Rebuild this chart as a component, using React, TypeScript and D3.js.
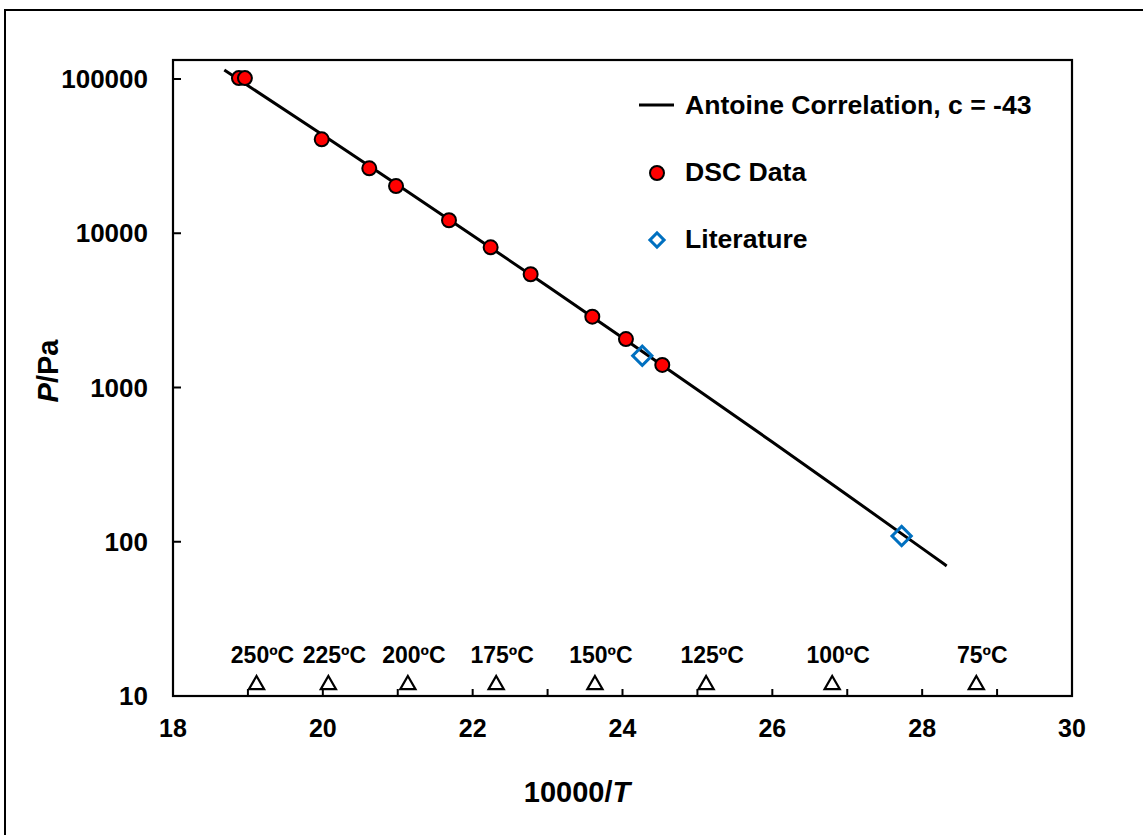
import React, { useRef, useEffect } from 'react'
import * as d3 from 'd3'

// DSC measurements (10000/T, P in Pa)
const dscX = [18.88, 18.96, 19.985, 20.62, 20.977, 21.684, 22.24, 22.774, 23.597, 24.046, 24.531]
const dscP = [101325, 101325, 40640, 26360, 20230, 12140, 8110, 5420, 2877, 2061, 1400]

// literature points
const litX = [24.264, 27.726]
const litP = [1608, 109]

// Antoine correlation, c = -43
const antX = [18.685, 20, 21, 22, 23, 24, 25, 26, 27, 28, 28.327]
const antP = [114300, 43320, 20550, 9678, 4528, 2102, 968.5, 443.1, 201.1, 90.6, 69.7]

// temperature markers along the bottom
const tempLabels = ['250ºC', '225ºC', '200ºC', '175ºC', '150ºC', '125ºC', '100ºC', '75ºC']
const tempX = [19.115, 20.074, 21.135, 22.314, 23.632, 25.116, 26.799, 28.723]
const tempP = [12, 12, 12, 12, 12, 12, 12, 12]

const xTicks = [18, 20, 22, 24, 26, 28, 30]
const yTicks = [10, 100, 1000, 10000, 100000]

const legendItems = ['Antoine Correlation, c = -43', 'DSC Data', 'Literature']

const W = 1143
const H = 835
const FONT = 'Liberation Sans, Arial, sans-serif'

export default function App() {
  const svgRef = useRef<SVGSVGElement>(null)

  useEffect(() => {
    const svg = d3.select(svgRef.current)
    svg.selectAll('*').remove()

    const left = 173, right = 1072, top = 60, bottom = 696

    const x = d3.scaleLinear().domain([18, 30]).range([left, right])
    const y = d3.scaleLog().domain([10, 100000]).range([bottom, 79])

    // outer chart frame
    svg.append('rect')
      .attr('x', 5).attr('y', 10)
      .attr('width', W + 10).attr('height', H + 10)
      .attr('fill', 'white').attr('stroke', '#000').attr('stroke-width', 2)

    // plot area
    svg.append('rect')
      .attr('x', left).attr('y', top)
      .attr('width', right - left).attr('height', bottom - top)
      .attr('fill', 'none').attr('stroke', '#000').attr('stroke-width', 2.2)

    // x ticks (inside), every 1 unit
    const xMinor = d3.range(19, 30, 1)
    svg.append('g').selectAll('line').data(xMinor).join('line')
      .attr('x1', d => x(d)).attr('x2', d => x(d))
      .attr('y1', bottom).attr('y2', bottom - 7)
      .attr('stroke', '#000').attr('stroke-width', 2)

    svg.append('g').selectAll('text').data(xTicks).join('text')
      .attr('x', d => x(d)).attr('y', 737)
      .attr('text-anchor', 'middle')
      .attr('font-family', FONT).attr('font-weight', 'bold').attr('font-size', 25)
      .text(d => d)

    // y ticks (inside)
    svg.append('g').selectAll('line').data(yTicks).join('line')
      .attr('x1', left).attr('x2', left + 8)
      .attr('y1', d => y(d)).attr('y2', d => y(d))
      .attr('stroke', '#000').attr('stroke-width', 2)

    svg.append('g').selectAll('text').data(yTicks).join('text')
      .attr('x', 148).attr('y', d => y(d))
      .attr('dy', '0.35em')
      .attr('text-anchor', 'end')
      .attr('font-family', FONT).attr('font-weight', 'bold').attr('font-size', 26)
      .text(d => d)

    // axis titles
    const xt = svg.append('text')
      .attr('x', 577).attr('y', 802)
      .attr('text-anchor', 'middle')
      .attr('font-family', FONT).attr('font-weight', 'bold').attr('font-size', 29)
    xt.append('tspan').text('10000/')
    xt.append('tspan').attr('font-style', 'italic').text('T')

    const yt = svg.append('text')
      .attr('transform', 'translate(58,371) rotate(-90)')
      .attr('text-anchor', 'middle')
      .attr('font-family', FONT).attr('font-weight', 'bold').attr('font-size', 29)
    yt.append('tspan').attr('font-style', 'italic').text('P')
    yt.append('tspan').text('/Pa')

    // Antoine line
    const lineGen = d3.line<number>()
      .x((d, i) => x(antX[i]))
      .y(d => y(d))
      .curve(d3.curveMonotoneX)
    svg.append('path')
      .datum(antP)
      .attr('d', lineGen)
      .attr('fill', 'none').attr('stroke', '#000').attr('stroke-width', 3)

    // DSC points
    svg.append('g').selectAll('circle').data(dscP).join('circle')
      .attr('cx', (d, i) => x(dscX[i])).attr('cy', d => y(d))
      .attr('r', 7)
      .attr('fill', '#FF0000').attr('stroke', '#000').attr('stroke-width', 2)

    // literature points
    const diamond = d3.symbol().type(d3.symbolSquare).size(185)
    svg.append('g').selectAll('path').data(litP).join('path')
      .attr('d', diamond)
      .attr('transform', (d, i) => `translate(${x(litX[i])},${y(d)}) rotate(45)`)
      .attr('fill', 'none').attr('stroke', '#0070C0').attr('stroke-width', 3)

    // temperature markers
    const tri = d3.symbol().type(d3.symbolTriangle).size(100)
    svg.append('g').selectAll('path').data(tempP).join('path')
      .attr('d', tri)
      .attr('transform', (d, i) => `translate(${x(tempX[i])},${y(d) + 1})`)
      .attr('fill', 'none').attr('stroke', '#000').attr('stroke-width', 2.2)

    svg.append('g').selectAll('text').data(tempLabels).join('text')
      .attr('x', (d, i) => x(tempX[i]) + 6).attr('y', 663)
      .attr('text-anchor', 'middle')
      .attr('font-family', FONT).attr('font-weight', 'bold').attr('font-size', 23)
      .text(d => d)

    // legend
    const lg = svg.append('g')
    lg.append('line')
      .attr('x1', 639).attr('x2', 674).attr('y1', 105).attr('y2', 105)
      .attr('stroke', '#000').attr('stroke-width', 3)
    lg.append('circle')
      .attr('cx', 657).attr('cy', 173).attr('r', 7)
      .attr('fill', '#FF0000').attr('stroke', '#000').attr('stroke-width', 2)
    lg.append('path')
      .attr('d', d3.symbol().type(d3.symbolSquare).size(100))
      .attr('transform', 'translate(657,240) rotate(45)')
      .attr('fill', 'none').attr('stroke', '#0070C0').attr('stroke-width', 3)
    lg.selectAll('text').data(legendItems).join('text')
      .attr('x', 685).attr('y', (d, i) => 114 + i * 67)
      .attr('font-family', FONT).attr('font-weight', 'bold').attr('font-size', 26.6)
      .text(d => d)
  }, [])

  return (
    <svg ref={svgRef} width={W} height={H}
      style={{ position: 'absolute', left: 0, top: 0, background: 'white' }} />
  )
}
